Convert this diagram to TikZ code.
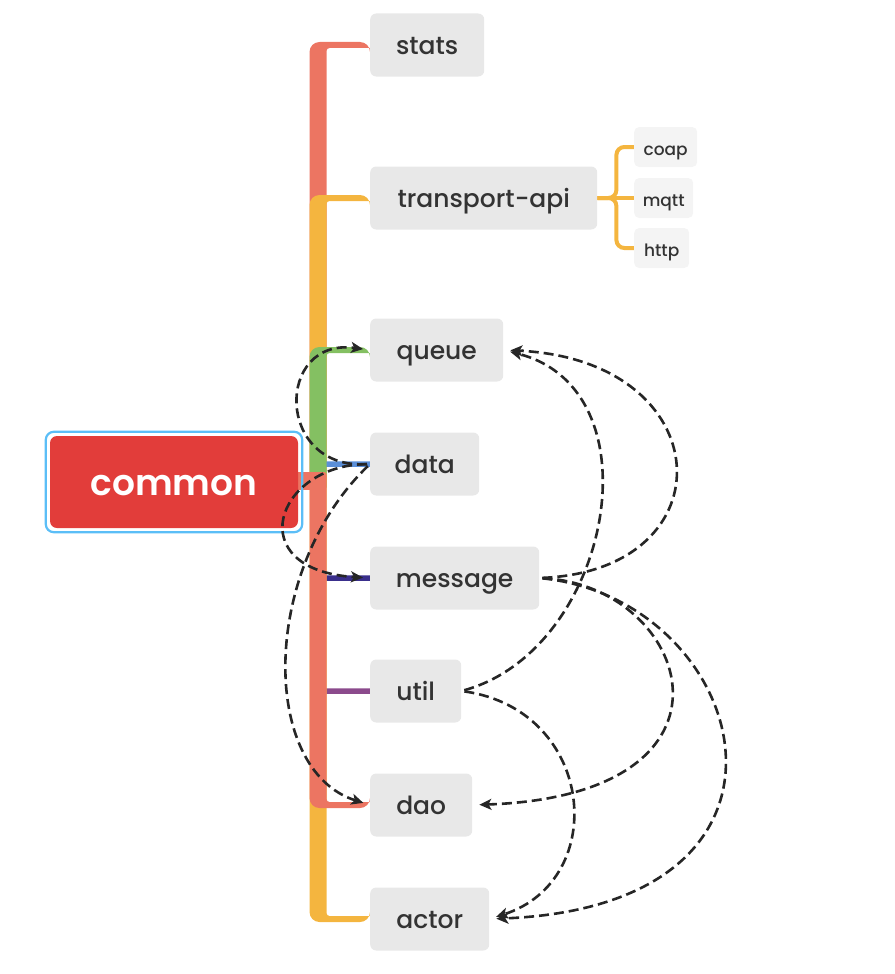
\documentclass[tikz,border=0pt]{standalone}
\usepackage{fontspec}
\setmainfont{Poppins}
\newfontfamily\topicfont{Poppins Medium}
\newfontfamily\centralfont{Poppins SemiBold}
\usetikzlibrary{
  arrows.meta,
  positioning,
  fit,
  backgrounds
}
\definecolor{topicgray}{HTML}{E8E8E8}
\definecolor{subgray}{HTML}{F4F4F4}
\definecolor{textgray}{HTML}{333333}
\definecolor{centralred}{HTML}{E23D3A}
\definecolor{selblue}{HTML}{5BBEF7}
\definecolor{salmon}{HTML}{EC7562}
\definecolor{amber}{HTML}{F4B53F}
\definecolor{leafgreen}{HTML}{84C062}
\definecolor{skyblue}{HTML}{5B8FD8}
\definecolor{indigo}{HTML}{3A2F8C}
\definecolor{plum}{HTML}{8B4A8C}
\definecolor{linkgray}{HTML}{262626}

\begin{document}
\begin{tikzpicture}[
      x=1pt,y=-1pt,
      topic/.style={
         rectangle,
         rounded corners=6pt,
         fill=topicgray,
         text=textgray,
         minimum height=63pt,
         anchor=west,
         font=\topicfont\fontsize{25}{30}\selectfont,
         text height=24pt,
         text depth=5pt
      },
      subtopic/.style={
         rectangle,
         rounded corners=5pt,
         fill=subgray,
         text=textgray,
         minimum height=40pt,
         anchor=west,
         font=\topicfont\fontsize{17}{20}\selectfont,
         text height=19pt,
         text depth=3pt
      },
      central/.style={
         rectangle,
         rounded corners=7pt,
         fill=centralred,
         text=white,
         minimum width=248pt,
         minimum height=92pt,
         font=\centralfont\fontsize{36}{44}\selectfont,
         text height=31pt,
         text depth=5pt
      },
      selection/.style={
         rectangle,
         rounded corners=8pt,
         draw=selblue,
         line width=2.2pt,
         inner sep=4pt
      },
      up branch/.style={
         to path={([xshift=-8.5pt]\tikztostart) [rounded corners=10pt] |- ([yshift=3pt]\tikztotarget)
            [sharp corners] -- ([yshift=-3pt]\tikztotarget)
            [rounded corners=3pt] -| ([xshift=8.5pt]\tikztostart) -- cycle}
      },
      down branch/.style={
         to path={([xshift=-8.5pt]\tikztostart) [rounded corners=10pt] |- ([yshift=-3pt]\tikztotarget)
            [sharp corners] -- ([yshift=3pt]\tikztotarget)
            [rounded corners=3pt] -| ([xshift=8.5pt]\tikztostart) -- cycle}
      },
      twig/.style={line width=5.5pt, rounded corners=8pt},
      vh path/.style={to path={|- (\tikztotarget)}},
      link/.style={
         draw=linkgray, line width=2.6pt, dash pattern=on 10pt off 5pt,
         -{Stealth[length=12pt,width=11pt,inset=3pt]},
         shorten >=7pt, shorten <=3pt
      }
    ]
    \useasboundingbox (0,0) rectangle (894,974);

    \node (common) [central] at (174,482) {common};
    \node (commonsel) [selection, fit=(common)] {};

    \node (stats)   [topic, minimum width=114pt] at (370,45)  {stats};
    \node (tapi)    [topic, minimum width=227pt] at (370,198) {transport-api};
    \node (queue)   [topic, minimum width=133pt] at (370,350) {queue};
    \node (data)    [topic, minimum width=109pt] at (370,464) {data};
    \node (message) [topic, minimum width=169pt] at (370,578) {message};
    \node (util)    [topic, minimum width=91pt]  at (370,691) {util};
    \node (dao)     [topic, minimum width=102pt] at (370,805) {dao};
    \node (actor)   [topic, minimum width=119pt] at (370,919) {actor};

    \node (coap) [subtopic, minimum width=63pt] at (634,147) {coap};
    \node (mqtt) [subtopic, minimum width=59pt] at (634,198) {mqtt};
    \node (http) [subtopic, minimum width=55pt] at (634,248) {http};

    \begin{scope}[on background layer]
      \coordinate (upstem) at (318,490);
      \coordinate (downstem) at (318,472);
      \fill[salmon] (upstem) to[up branch] (stats.west);
      \fill[amber] (upstem) to[up branch] (tapi.west);
      \draw[twig, skyblue] (upstem) to[vh path] (data.west);
      \fill[leafgreen] (upstem) to[up branch] (queue.west);
      \draw[twig, indigo] (downstem) to[vh path] (message.west);
      \draw[twig, plum] (downstem) to[vh path] (util.west);
      \fill[amber] (downstem) to[down branch] (actor.west);
      \fill[salmon] (downstem) to[down branch] (dao.west);
      \fill[salmon] (common.east |- downstem) rectangle (upstem);
      \draw[twig, amber, line width=4pt] (tapi.east) -- ++(19,0) |- (coap.west);
      \draw[twig, amber, line width=4pt] (tapi.east) -- (mqtt.west);
      \draw[twig, amber, line width=4pt] (tapi.east) -- ++(19,0) |- (http.west);
    \end{scope}

    \draw[link] (data.west) .. controls +(-95,6) and +(-95,-13) .. (queue.west);
    \draw[link] (data.west) .. controls +(-95,1) and +(-130,-8) .. (message.west);
    \draw[link] (data.west) .. controls +(-110,106) and +(-110,-35) .. (dao.west);
    \draw[link] (message.east) .. controls +(191,-8) and +(217,10) .. (queue.east);
    \draw[link] (message.east) .. controls +(151,7) and +(288,-10) .. (dao.east);
    \draw[link] (message.east) .. controls +(211,22) and +(346,-14) .. (actor.east);
    \draw[link] (util.east) .. controls +(149,-41) and +(157,40) .. (queue.east);
    \draw[link] (util.east) .. controls +(134,19) and +(121,-39) .. (actor.east);
\end{tikzpicture}
\end{document}
